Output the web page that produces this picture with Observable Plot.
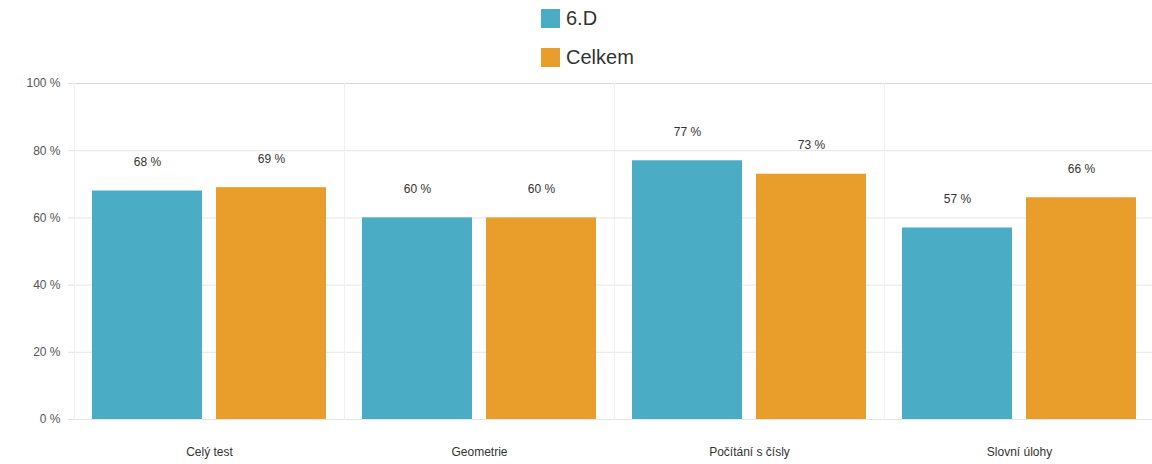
<!DOCTYPE html>
<html>
<head>
<meta charset="utf-8">
<script src="https://cdn.jsdelivr.net/npm/d3@7"></script>
<script src="https://cdn.jsdelivr.net/npm/@observablehq/plot@0.6"></script>
<style>
  html, body { margin: 0; background: #fff; font-family: "Liberation Sans", Arial, sans-serif; overflow: hidden; }
  #legend { position: relative; height: 70px; width: 1152px; }
  .item { position: absolute; left: 541px; display: flex; align-items: center; font-size: 20px; color: #333; }
  .sw { width: 19px; height: 19px; margin-right: 6px; }
  #chart svg { max-width: none !important; }
</style>
</head>
<body>
<div id="legend"></div>
<div id="chart"></div>
<script>
const categories = ["Celý test", "Geometrie", "Počítání s čísly", "Slovní úlohy"];
const seriesNames = ["6.D", "Celkem"];
const values6D = [68, 60, 77, 57];
const valuesCelkem = [69, 60, 73, 66];
const yTicks = [0, 20, 40, 60, 80, 100];
const colors = ["#4aacc5", "#e99d2b"];

const data = [];
categories.forEach((c, i) => {
  data.push({cat: c, series: seriesNames[0], value: values6D[i]});
  data.push({cat: c, series: seriesNames[1], value: valuesCelkem[i]});
});

// legend
const legend = document.getElementById("legend");
seriesNames.forEach((s, i) => {
  const d = document.createElement("div");
  d.className = "item";
  d.style.top = (i === 0 ? 7 : 46) + "px";
  d.innerHTML = `<span class="sw" style="background:${colors[i]}"></span><span>${s}</span>`;
  legend.appendChild(d);
});

const chart = Plot.plot({
  width: 1156,
  height: 394,
  marginLeft: 72,
  marginRight: 1,
  marginTop: 13,
  marginBottom: 45,
  style: {fontFamily: "Liberation Sans, Arial, sans-serif", fontSize: "12px", color: "#333", overflow: "visible", maxWidth: "none"},
  fx: {domain: categories, padding: 0, label: null},
  x: {domain: seriesNames, paddingInner: 0.112, paddingOuter: 0.139, axis: null},
  y: {domain: [0, 100], label: null},
  color: {domain: seriesNames, range: colors},
  marks: [
    Plot.gridY(yTicks, {stroke: "#e6e6e6", strokeOpacity: 1}),
    Plot.ruleY([100], {stroke: "#d8d8d8"}),
    Plot.frame({stroke: "#f0f0f0", anchor: "left"}),
    Plot.frame({stroke: "#f0f0f0", anchor: "right"}),
    Plot.axisY(yTicks, {tickFormat: d => d + " %", tickSize: 6, tickPadding: 8, stroke: "#e0e0e0", fill: "#555", label: null}),
    Plot.axisFx({anchor: "bottom", tickSize: 0, tickPadding: 28, fill: "#333", label: null}),
    Plot.barY(data, {fx: "cat", x: "series", y: "value", fill: "series"}),
    Plot.text(data, {fx: "cat", x: "series", y: "value", text: d => d.value + " %", dy: -29, fill: "#333", fontSize: 12})
  ]
});
document.getElementById("chart").appendChild(chart);
</script>
</body>
</html>
